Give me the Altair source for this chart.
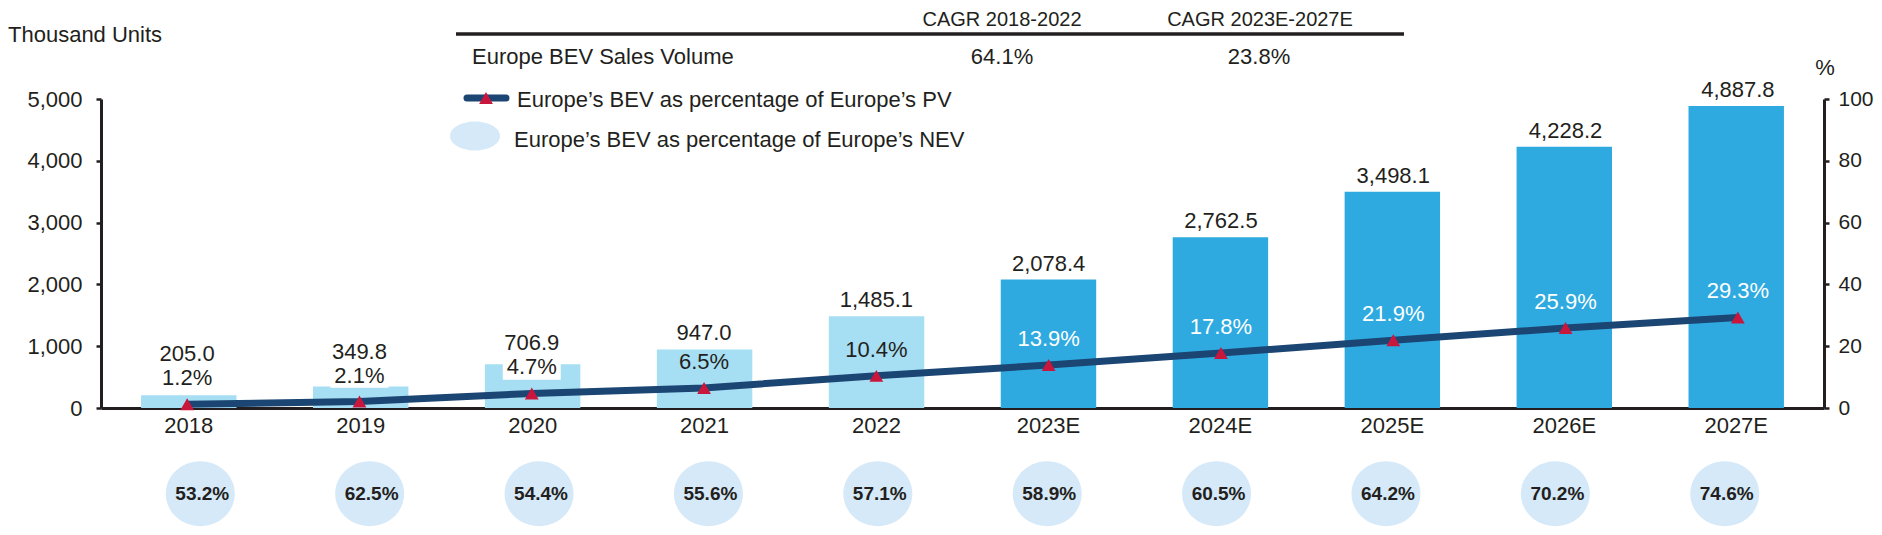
import altair as alt
import pandas as pd

# ---------------- data ----------------
years = ["2018", "2019", "2020", "2021", "2022", "2023E", "2024E", "2025E", "2026E", "2027E"]
sales = [205.0, 349.8, 706.9, 947.0, 1485.1, 2078.4, 2762.5, 3498.1, 4228.2, 4887.8]
pv_share = [1.2, 2.1, 4.7, 6.5, 10.4, 13.9, 17.8, 21.9, 25.9, 29.3]
nev_share = [53.2, 62.5, 54.4, 55.6, 57.1, 58.9, 60.5, 64.2, 70.2, 74.6]
period = ["Actual"] * 5 + ["Estimate"] * 5

left_ticks = [0, 1000, 2000, 3000, 4000, 5000]
right_ticks = [0, 20, 40, 60, 80, 100]

cagr_headers = ["CAGR 2018-2022", "CAGR 2023E-2027E"]
cagr_values = ["64.1%", "23.8%"]
table_row = "Europe BEV Sales Volume"
legend_pv = "Europe\u2019s BEV as percentage of Europe\u2019s PV"
legend_nev = "Europe\u2019s BEV as percentage of Europe\u2019s NEV"

df = pd.DataFrame({"year": years, "sales": sales, "pv": pv_share,
                   "nev": nev_share, "period": period})
one = pd.DataFrame({"k": [0]})

DARK = "#231f20"
FONT = "Liberation Sans"
LIGHT_BAR = "#a6def3"
DARK_BAR = "#2eaae1"
NAVY = "#1b4573"
RED = "#c8163c"
BUBBLE = "#d6e9f8"


def ellipse(k):
    c = 0.5523
    return (f"M-1,0C-1,{-c*k:.4f},{-c:.4f},{-k:.4f},0,{-k:.4f}"
            f"C{c:.4f},{-k:.4f},1,{-c*k:.4f},1,0"
            f"C1,{c*k:.4f},{c:.4f},{k:.4f},0,{k:.4f}"
            f"C{-c:.4f},{k:.4f},-1,{c*k:.4f},-1,0Z")


BOX = "M-1,-0.42H1V0.42H-1Z"

xband = alt.Scale(domain=years, paddingInner=0.445, paddingOuter=0.233)
xpoint = alt.Scale(type="point", domain=years, padding=0.586)
ysales = alt.Scale(domain=[0, 5000], nice=False)
ypct = alt.Scale(domain=[0, 100], nice=False)

base = alt.Chart(df)
X = lambda **kw: alt.X("year:N", scale=xband, sort=years, **kw)

bars = base.mark_bar().encode(
    x=X(axis=alt.Axis(title=None, labelAngle=0, ticks=False, labelPadding=7,
                      labelFontSize=22, labelColor=DARK, labelFont=FONT,
                      domainColor=DARK, domainWidth=3)),
    y=alt.Y("sales:Q", scale=ysales,
            axis=alt.Axis(title=None, values=left_ticks, format=",.0f", grid=False,
                          tickSize=5, tickWidth=2.5, tickColor=DARK,
                          domainColor=DARK, domainWidth=3, labelPadding=14,
                          labelFontSize=22, labelColor=DARK, labelFont=FONT)),
    color=alt.Color("period:N", scale=alt.Scale(domain=["Actual", "Estimate"],
                                                range=[LIGHT_BAR, DARK_BAR]),
                    legend=None),
)

line = base.mark_line(color=NAVY, strokeWidth=7).encode(
    x=X(axis=None),
    y=alt.Y("pv:Q", scale=ypct,
            axis=alt.Axis(title=None, orient="right", values=right_ticks, grid=False,
                          tickSize=5, tickWidth=2.5, tickColor=DARK,
                          domainColor=DARK, domainWidth=3, labelPadding=9,
                          labelFontSize=21, labelColor=DARK, labelFont=FONT)),
)

tri = base.mark_point(shape="triangle-up", filled=True, color=RED, size=190,
                      opacity=1).encode(
    x=X(axis=None),
    y=alt.Y("pv:Q", scale=ypct, axis=None),
)

low = alt.FieldOneOfPredicate(field="year", oneOf=years[:3])
high = alt.FieldOneOfPredicate(field="year", oneOf=years[3:])

white_box = base.transform_filter(low).mark_point(
    shape=BOX, filled=True, color="white", opacity=1, size=3364, yOffset=-26,
    strokeWidth=0).encode(
    x=X(axis=None),
    y=alt.Y("pv:Q", scale=ypct, axis=None),
)

pct_text = base.transform_calculate(
    lbl="format(datum.pv, '.1f') + '%'"
).mark_text(fontSize=22, font=FONT, dy=-26, baseline="middle").encode(
    x=X(axis=None),
    y=alt.Y("pv:Q", scale=ypct, axis=None),
    text="lbl:N",
    color=alt.condition("datum.period == 'Actual'", alt.value(DARK), alt.value("white")),
)

val_high = base.transform_filter(high).mark_text(
    fontSize=22, font=FONT, dy=-16, color=DARK, baseline="middle").encode(
    x=X(axis=None),
    y=alt.Y("sales:Q", scale=ysales, axis=None),
    text=alt.Text("sales:Q", format=",.1f"),
)

val_low = base.transform_filter(low).mark_text(
    fontSize=22, font=FONT, dy=-50, color=DARK, baseline="middle").encode(
    x=X(axis=None),
    y=alt.Y("pv:Q", scale=ypct, axis=None),
    text=alt.Text("sales:Q", format=",.1f"),
)

bubbles = base.mark_point(shape=ellipse(65 / 69), filled=True, color=BUBBLE,
                          opacity=1, size=69 * 69, strokeWidth=0).encode(
    x=alt.X("year:N", scale=xpoint, sort=years, axis=None),
    y=alt.value(394.7),
)

bubble_text = base.transform_calculate(
    lbl="format(datum.nev, '.1f') + '%'"
).mark_text(fontSize=19, font=FONT, fontWeight="bold", color=DARK, dx=2,
            baseline="middle").encode(
    x=alt.X("year:N", scale=xpoint, sort=years, axis=None),
    y=alt.value(394.7),
    text="lbl:N",
)

# ---------------- annotations ----------------
ann = alt.Chart(one)


def label(txt, x, y, align="left", size=22, weight="normal"):
    return ann.mark_text(text=txt, fontSize=size, font=FONT, color=DARK,
                         align=align, baseline="middle", fontWeight=weight).encode(
        x=alt.value(x), y=alt.value(y))


units = label("Thousand Units", -93, -64)
pct_unit = label("%", 1724, -31, align="center")

table_rule = ann.mark_rule(color=DARK, strokeWidth=3.5).encode(
    x=alt.value(355), x2=alt.value(1303), y=alt.value(-65))
h1 = label(cagr_headers[0], 901, -79, align="center", size=20)
h2 = label(cagr_headers[1], 1159, -79, align="center", size=20)
r0 = label(table_row, 371, -42)
v1 = label(cagr_values[0], 901, -42, align="center")
v2 = label(cagr_values[1], 1158, -42, align="center")

leg_line = ann.mark_rule(color=NAVY, strokeWidth=7, strokeCap="round").encode(
    x=alt.value(366), x2=alt.value(405), y=alt.value(-1))
leg_tri = ann.mark_point(shape="triangle-up", filled=True, color=RED, size=190,
                         opacity=1).encode(x=alt.value(385), y=alt.value(-1))
leg_t1 = label(legend_pv, 416, 1)
leg_ell = ann.mark_point(shape=ellipse(0.58), filled=True, color=BUBBLE, opacity=1,
                         size=2500, strokeWidth=0).encode(
    x=alt.value(374), y=alt.value(37))
leg_t2 = label(legend_nev, 413, 41)

chart = alt.layer(
    bars, line, tri, white_box, pct_text, val_high, val_low, bubbles, bubble_text,
    units, pct_unit, table_rule, h1, h2, r0, v1, v2,
    leg_line, leg_tri, leg_t1, leg_ell, leg_t2,
).resolve_scale(x="independent", y="independent").properties(
    width=1723, height=309,
    padding={"left": 93, "top": 91, "right": 50, "bottom": 119},
    autosize=alt.AutoSizeParams(type="none"),
).configure(font=FONT).configure_view(stroke=None)

chart.save("out.html", embed_options={"renderer": "svg", "actions": False})
